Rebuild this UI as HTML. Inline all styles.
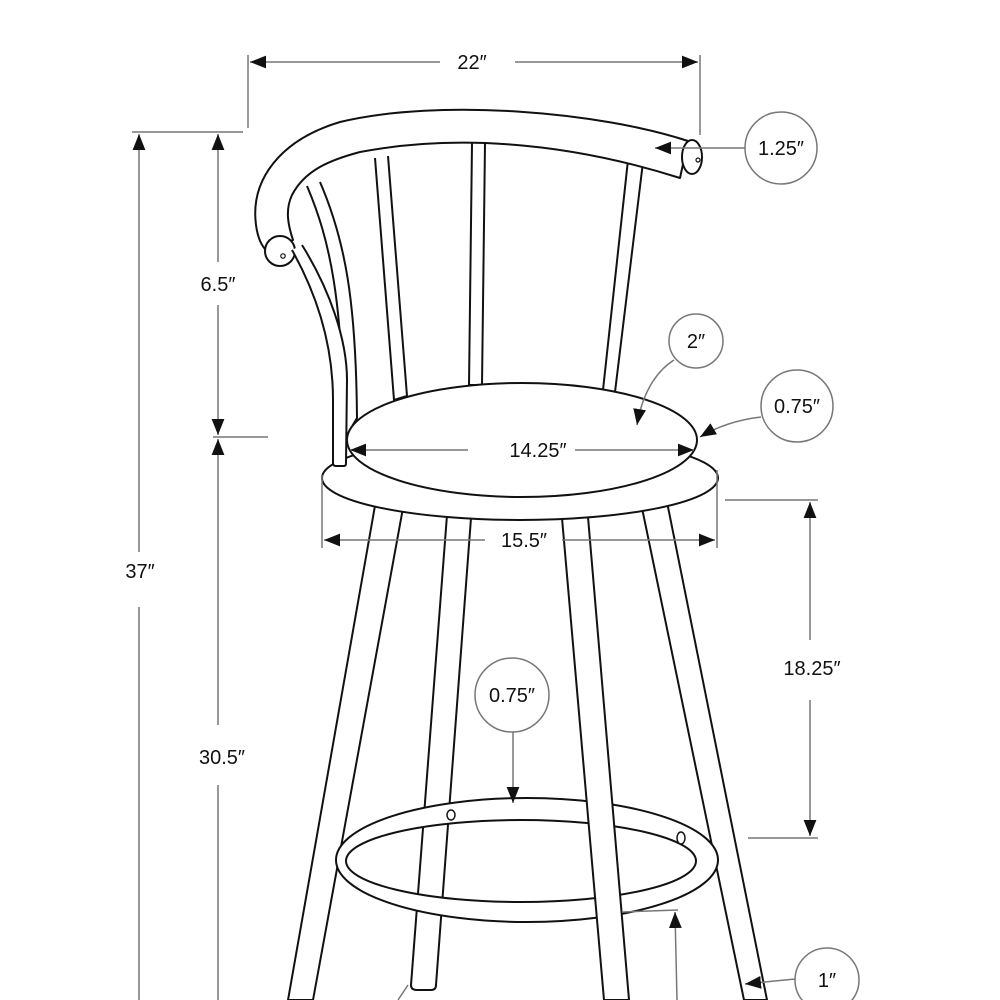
<!DOCTYPE html>
<html><head><meta charset="utf-8"><style>
html,body{margin:0;padding:0;background:#fff;}
svg{display:block;}
text{font-family:"Liberation Sans",sans-serif;font-size:20px;fill:#111;text-anchor:middle;}
</style></head><body>
<svg width="1000" height="1000" viewBox="0 0 1000 1000" xmlns="http://www.w3.org/2000/svg">
<defs>
<marker id="a" viewBox="0 0 10 10" refX="10" refY="5" markerWidth="16" markerHeight="16" markerUnits="userSpaceOnUse" orient="auto"><path d="M0,1 L10,5 L0,9 z" fill="#111"/></marker>
</defs>
<g stroke="#111" stroke-width="2" fill="#fff" stroke-linejoin="round">
<!-- legs behind ring -->
<polygon points="376,500 288,1000 313,1000 403,508"/>
<path d="M447,515 L411,985 Q411,990 417,990 L431,990 Q436,990 436,985 L471,518"/>
<polygon points="642,508 744,1000 767,1000 667,502"/>
<!-- foot ring -->
<path fill-rule="evenodd" d="M336,860 a191,62 0 1,0 382,0 a191,62 0 1,0 -382,0 Z M346,861 a175,41 0 1,0 350,0 a175,41 0 1,0 -350,0 Z"/>
<ellipse cx="451" cy="815" rx="4" ry="5" stroke-width="1.5"/>
<ellipse cx="681" cy="838" rx="4" ry="6" stroke-width="1.5"/>
<!-- front leg -->
<polygon points="562,518 604,1000 629,1000 588,517" fill="#fff"/>
<!-- back spindles -->
<path d="M307,186 C330,240 343,300 344,440 L357,418 C356,300 345,240 320,182" />
<path d="M375,158 L394,400 L407,396 L388,156"/>
<path d="M472,143 L469,385 L482,385 L485,143"/>
<path d="M628,160 L603,390 L615,392 L643,162"/>
<!-- back rail -->
<path d="M688,141 C600,112 440,98 340,122 C280,140 250,180 256,225 C258,240 263,248 268,252 L293,240 C288,225 285,210 292,195 C305,170 330,160 360,152 C450,135 560,140 680,178 Z"/>
<ellipse cx="692" cy="157" rx="10" ry="17"/>
<circle cx="698" cy="160" r="2" stroke-width="1.2"/>
<circle cx="280" cy="251" r="15"/>
<circle cx="283" cy="256" r="2.2" stroke-width="1.2"/>
<!-- seat -->
<ellipse cx="520" cy="478" rx="198" ry="42"/>
<ellipse cx="522" cy="440" rx="175" ry="57"/>
<!-- front post -->
<path d="M292,250 C320,300 333,350 333,400 L333,463 Q333,466 336,466 L344,466 Q346,466 346,463 L347,380 C347,340 330,290 302,245"/>
</g>
<g stroke="#777" stroke-width="1.5" fill="none">
<!-- 22 -->
<line x1="248" y1="55" x2="248" y2="128"/>
<line x1="700" y1="55" x2="700" y2="135"/>
<line x1="440" y1="62" x2="250" y2="62" marker-end="url(#a)"/>
<line x1="515" y1="62" x2="698" y2="62" marker-end="url(#a)"/>
<!-- 37 & 6.5 -->
<line x1="132" y1="132" x2="243" y2="132"/>
<line x1="139" y1="552" x2="139" y2="134" marker-end="url(#a)"/>
<line x1="139" y1="607" x2="139" y2="1000"/>
<line x1="218" y1="262" x2="218" y2="134" marker-end="url(#a)"/>
<line x1="218" y1="305" x2="218" y2="435" marker-end="url(#a)"/>
<line x1="213" y1="437" x2="268" y2="437"/>
<line x1="218" y1="725" x2="218" y2="439" marker-end="url(#a)"/>
<line x1="218" y1="785" x2="218" y2="1000"/>
<!-- 14.25 -->
<line x1="468" y1="450" x2="350" y2="450" marker-end="url(#a)"/>
<line x1="575" y1="450" x2="694" y2="450" marker-end="url(#a)"/>
<!-- 15.5 -->
<line x1="322" y1="475" x2="322" y2="548"/>
<line x1="717" y1="470" x2="717" y2="548"/>
<line x1="485" y1="540" x2="324" y2="540" marker-end="url(#a)"/>
<line x1="562" y1="540" x2="715" y2="540" marker-end="url(#a)"/>
<!-- 18.25 -->
<line x1="725" y1="500" x2="818" y2="500"/>
<line x1="748" y1="838" x2="818" y2="838"/>
<line x1="810" y1="640" x2="810" y2="502" marker-end="url(#a)"/>
<line x1="810" y1="700" x2="810" y2="836" marker-end="url(#a)"/>
<!-- callouts -->
<circle cx="781" cy="148" r="36"/>
<line x1="745" y1="148" x2="655" y2="148" marker-end="url(#a)"/>
<circle cx="696" cy="341" r="27"/>
<path d="M674,360 C655,372 642,395 637,425" marker-end="url(#a)"/>
<circle cx="797" cy="406" r="36"/>
<path d="M761,417 C735,420 715,428 700,437" marker-end="url(#a)"/>
<circle cx="512" cy="695" r="37"/>
<line x1="513" y1="732" x2="513" y2="803" marker-end="url(#a)"/>
<line x1="622" y1="912" x2="678" y2="910"/>
<line x1="677" y1="1000" x2="675" y2="912" marker-end="url(#a)"/>
<circle cx="827" cy="980" r="32"/>
<line x1="795" y1="979" x2="745" y2="984" marker-end="url(#a)"/>
<line x1="408" y1="985" x2="398" y2="1000"/>
</g>
<g fill="#fff" stroke="none">
<rect x="445" y="52" width="55" height="22"/>
<rect x="490" y="530" width="70" height="22"/>
</g>
<text x="472" y="69">22″</text>
<text x="140" y="578">37″</text>
<text x="218" y="291">6.5″</text>
<text x="222" y="764">30.5″</text>
<text x="538" y="457">14.25″</text>
<text x="524" y="547">15.5″</text>
<text x="812" y="675">18.25″</text>
<text x="781" y="155">1.25″</text>
<text x="696" y="348">2″</text>
<text x="797" y="413">0.75″</text>
<text x="512" y="702">0.75″</text>
<text x="827" y="987">1″</text>
</svg>
</body></html>
